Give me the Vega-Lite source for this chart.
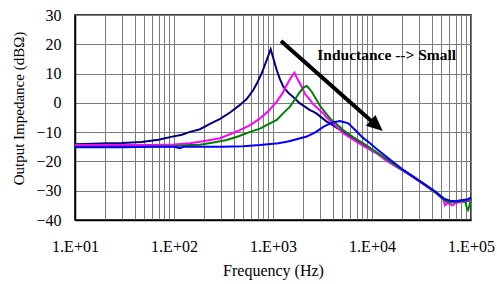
{
  "$schema": "https://vega.github.io/schema/vega-lite/v6.json",
  "width": 396,
  "height": 205,
  "autosize": {"type": "none"},
  "padding": {"left": 75, "top": 15, "right": 26, "bottom": 64},
  "config": {
    "font": "Liberation Serif",
    "view": {"stroke": "black", "strokeWidth": 1.5},
    "axis": {"labelFont": "Liberation Serif", "titleFont": "Liberation Serif", "labelColor": "black", "titleColor": "black", "titleFontWeight": "normal", "gridColor": "#7a7a7a", "gridWidth": 1, "gridOpacity": 1, "domainColor": "black", "domainWidth": 1.5, "ticks": false, "tickSize": 0, "labelOverlap": false, "labelSeparation": 0}
  },
  "datasets": {
    "curves": [
      {"s": "a", "f": 10, "db": -14.1}, {"s": "a", "f": 15, "db": -14.0}, {"s": "a", "f": 21.5, "db": -13.8}, {"s": "a", "f": 30, "db": -13.7}, {"s": "a", "f": 47, "db": -13.4}, {"s": "a", "f": 70, "db": -12.6}, {"s": "a", "f": 91, "db": -11.7}, {"s": "a", "f": 120, "db": -10.9}, {"s": "a", "f": 145, "db": -9.9}, {"s": "a", "f": 183, "db": -9.0}, {"s": "a", "f": 231, "db": -7.2}, {"s": "a", "f": 292, "db": -5.5}, {"s": "a", "f": 368, "db": -3.3}, {"s": "a", "f": 464, "db": -0.7}, {"s": "a", "f": 542, "db": 1.3}, {"s": "a", "f": 632, "db": 4.4}, {"s": "a", "f": 684, "db": 6.5}, {"s": "a", "f": 769, "db": 10.1}, {"s": "a", "f": 863, "db": 14.6}, {"s": "a", "f": 948, "db": 18.3}, {"s": "a", "f": 1000, "db": 15.6}, {"s": "a", "f": 1090, "db": 11.2}, {"s": "a", "f": 1177, "db": 8.0}, {"s": "a", "f": 1271, "db": 5.5}, {"s": "a", "f": 1429, "db": 3.4}, {"s": "a", "f": 1600, "db": 2.0}, {"s": "a", "f": 1874, "db": -0.2}, {"s": "a", "f": 2364, "db": -2.5}, {"s": "a", "f": 2553, "db": -3.0}, {"s": "a", "f": 2762, "db": -3.7}, {"s": "a", "f": 3486, "db": -6.4}, {"s": "a", "f": 3765, "db": -7.0}, {"s": "a", "f": 4500, "db": -8.7}, {"s": "a", "f": 5550, "db": -10.4}, {"s": "a", "f": 7567, "db": -13.8}, {"s": "a", "f": 8836, "db": -15.0}, {"s": "a", "f": 10000, "db": -16.3}, {"s": "a", "f": 12040, "db": -17.8}, {"s": "a", "f": 14070, "db": -19.5}, {"s": "a", "f": 17770, "db": -21.8}, {"s": "a", "f": 24000, "db": -24.5}, {"s": "a", "f": 32960, "db": -27.6}, {"s": "a", "f": 38540, "db": -29.2}, {"s": "a", "f": 45000, "db": -30.8}, {"s": "a", "f": 52500, "db": -32.6}, {"s": "a", "f": 56000, "db": -33.6}, {"s": "a", "f": 61380, "db": -34.0}, {"s": "a", "f": 70000, "db": -33.6}, {"s": "a", "f": 83600, "db": -33.3}, {"s": "a", "f": 93000, "db": -33.6}, {"s": "a", "f": 100000, "db": -32.5},

      {"s": "b", "f": 10, "db": -14.4}, {"s": "b", "f": 30, "db": -14.4}, {"s": "b", "f": 57, "db": -14.4}, {"s": "b", "f": 100, "db": -14.2}, {"s": "b", "f": 145, "db": -13.8}, {"s": "b", "f": 183, "db": -13.3}, {"s": "b", "f": 292, "db": -12.1}, {"s": "b", "f": 464, "db": -9.3}, {"s": "b", "f": 600, "db": -7.4}, {"s": "b", "f": 739, "db": -5.3}, {"s": "b", "f": 900, "db": -2.8}, {"s": "b", "f": 1090, "db": 0.4}, {"s": "b", "f": 1250, "db": 3.3}, {"s": "b", "f": 1374, "db": 6.1}, {"s": "b", "f": 1500, "db": 8.3}, {"s": "b", "f": 1641, "db": 10.3}, {"s": "b", "f": 1802, "db": 7.6}, {"s": "b", "f": 1950, "db": 5.5}, {"s": "b", "f": 2105, "db": 3.0}, {"s": "b", "f": 2364, "db": 1.0}, {"s": "b", "f": 2553, "db": -0.5}, {"s": "b", "f": 3222, "db": -3.6}, {"s": "b", "f": 3486, "db": -5.0}, {"s": "b", "f": 4398, "db": -8.2}, {"s": "b", "f": 5129, "db": -10.4}, {"s": "b", "f": 7003, "db": -13.3}, {"s": "b", "f": 8500, "db": -15.0}, {"s": "b", "f": 11150, "db": -17.2}, {"s": "b", "f": 14070, "db": -19.8}, {"s": "b", "f": 17770, "db": -21.9}, {"s": "b", "f": 24000, "db": -24.6}, {"s": "b", "f": 32960, "db": -27.8}, {"s": "b", "f": 38540, "db": -29.4}, {"s": "b", "f": 45000, "db": -31.0}, {"s": "b", "f": 52500, "db": -33.0}, {"s": "b", "f": 54550, "db": -35.0}, {"s": "b", "f": 57000, "db": -34.3}, {"s": "b", "f": 61000, "db": -34.5}, {"s": "b", "f": 65000, "db": -35.0}, {"s": "b", "f": 70000, "db": -34.2}, {"s": "b", "f": 80000, "db": -33.8}, {"s": "b", "f": 90000, "db": -33.5}, {"s": "b", "f": 100000, "db": -33.0},

      {"s": "c", "f": 10, "db": -15.0}, {"s": "c", "f": 57, "db": -15.0}, {"s": "c", "f": 100, "db": -14.8}, {"s": "c", "f": 145, "db": -14.4}, {"s": "c", "f": 183, "db": -14.3}, {"s": "c", "f": 250, "db": -13.5}, {"s": "c", "f": 340, "db": -12.7}, {"s": "c", "f": 450, "db": -11.4}, {"s": "c", "f": 586, "db": -9.9}, {"s": "c", "f": 739, "db": -8.8}, {"s": "c", "f": 863, "db": -7.6}, {"s": "c", "f": 1090, "db": -5.8}, {"s": "c", "f": 1271, "db": -3.5}, {"s": "c", "f": 1485, "db": -1.3}, {"s": "c", "f": 1735, "db": 2.1}, {"s": "c", "f": 1874, "db": 3.8}, {"s": "c", "f": 2050, "db": 5.3}, {"s": "c", "f": 2188, "db": 5.8}, {"s": "c", "f": 2300, "db": 5.0}, {"s": "c", "f": 2460, "db": 3.8}, {"s": "c", "f": 2700, "db": 1.5}, {"s": "c", "f": 2983, "db": -1.0}, {"s": "c", "f": 3765, "db": -5.3}, {"s": "c", "f": 5129, "db": -9.3}, {"s": "c", "f": 6500, "db": -11.8}, {"s": "c", "f": 8171, "db": -13.8}, {"s": "c", "f": 10000, "db": -15.8}, {"s": "c", "f": 13000, "db": -18.4}, {"s": "c", "f": 17770, "db": -21.6}, {"s": "c", "f": 24000, "db": -24.4}, {"s": "c", "f": 32960, "db": -27.6}, {"s": "c", "f": 38540, "db": -29.2}, {"s": "c", "f": 45000, "db": -30.9}, {"s": "c", "f": 52500, "db": -33.0}, {"s": "c", "f": 61380, "db": -34.0}, {"s": "c", "f": 70000, "db": -33.8}, {"s": "c", "f": 80000, "db": -33.5}, {"s": "c", "f": 88000, "db": -34.0}, {"s": "c", "f": 91000, "db": -36.0}, {"s": "c", "f": 93300, "db": -36.6}, {"s": "c", "f": 96000, "db": -35.5}, {"s": "c", "f": 100000, "db": -32.5},

      {"s": "d", "f": 10, "db": -15.2}, {"s": "d", "f": 30, "db": -15.2}, {"s": "d", "f": 60, "db": -15.0}, {"s": "d", "f": 100, "db": -15.0}, {"s": "d", "f": 115, "db": -15.5}, {"s": "d", "f": 125, "db": -15.0}, {"s": "d", "f": 200, "db": -15.0}, {"s": "d", "f": 300, "db": -15.0}, {"s": "d", "f": 500, "db": -14.8}, {"s": "d", "f": 739, "db": -14.4}, {"s": "d", "f": 1132, "db": -13.8}, {"s": "d", "f": 1374, "db": -13.3}, {"s": "d", "f": 1485, "db": -13.0}, {"s": "d", "f": 2188, "db": -11.5}, {"s": "d", "f": 2700, "db": -10.0}, {"s": "d", "f": 3222, "db": -8.2}, {"s": "d", "f": 3486, "db": -7.6}, {"s": "d", "f": 4100, "db": -6.6}, {"s": "d", "f": 4752, "db": -6.2}, {"s": "d", "f": 5765, "db": -7.0}, {"s": "d", "f": 7003, "db": -9.8}, {"s": "d", "f": 8000, "db": -11.8}, {"s": "d", "f": 9545, "db": -13.8}, {"s": "d", "f": 11000, "db": -15.6}, {"s": "d", "f": 14620, "db": -18.9}, {"s": "d", "f": 20720, "db": -22.9}, {"s": "d", "f": 32960, "db": -27.5}, {"s": "d", "f": 45000, "db": -30.6}, {"s": "d", "f": 52500, "db": -32.6}, {"s": "d", "f": 61380, "db": -33.4}, {"s": "d", "f": 70000, "db": -33.6}, {"s": "d", "f": 83600, "db": -33.2}, {"s": "d", "f": 92000, "db": -33.0}, {"s": "d", "f": 100000, "db": -32.3}
    ],
    "arrow": [{"f": 1205, "db": 21.1, "f2": 11150, "db2": -7.8}],
    "note": [{"f": 2800, "db": 16.3, "label": "Inductance --> Small"}]
  },
  "layer": [
    {
      "data": {"name": "curves"},
      "mark": {"type": "line", "strokeWidth": 2, "interpolate": "linear"},
      "encoding": {
        "x": {
          "field": "f", "type": "quantitative",
          "scale": {"type": "log", "domain": [10, 100000], "nice": false},
          "axis": {
            "title": "Frequency (Hz)",
            "values": [10, 20, 30, 40, 50, 60, 70, 80, 90, 100, 200, 300, 400, 500, 600, 700, 800, 900, 1000, 2000, 3000, 4000, 5000, 6000, 7000, 8000, 9000, 10000, 20000, 30000, 40000, 50000, 60000, 70000, 80000, 90000, 100000],
            "labelExpr": "indexof([10, 100, 1000, 10000, 100000], datum.value) >= 0 ? '1.E+0' + round(log(datum.value) / LN10) : ''",
            "labelFont": "Liberation Serif", "titleFont": "Liberation Serif",
            "labelFontSize": 16, "labelPadding": 26, "labelBaseline": "middle", "labelFlush": false, "labelOverlap": false,
            "titleFontSize": 16, "titleY": 50, "titleX": 198, "titleBaseline": "middle", "titleAnchor": "middle",
            "grid": true
          }
        },
        "y": {
          "field": "db", "type": "quantitative",
          "scale": {"domain": [-40, 30], "nice": false, "zero": false},
          "axis": {
            "title": "Output Impedance (dBΩ)",
            "values": [-40, -30, -20, -10, 0, 10, 20, 30],
            "tickCount": 8,
            "labelFont": "Liberation Serif", "titleFont": "Liberation Serif",
            "labelFontSize": 16, "labelPadding": 14, "labelBaseline": "middle",
            "labelFlush": false, "labelOverlap": false,
            "titleFontSize": 15, "titleX": -57, "titleY": 93, "titleAngle": -90, "titleAlign": "center", "titleBaseline": "middle",
            "grid": true
          }
        },
        "color": {
          "field": "s", "type": "nominal",
          "scale": {"domain": ["a", "b", "c", "d"], "range": ["#000080", "#ff00ff", "#008000", "#0000ff"]},
          "legend": null
        }
      }
    },
    {
      "data": {"name": "arrow"},
      "mark": {"type": "rule", "strokeWidth": 4, "color": "black"},
      "encoding": {
        "x": {"field": "f", "type": "quantitative"},
        "y": {"field": "db", "type": "quantitative"},
        "x2": {"field": "f2"},
        "y2": {"field": "db2"}
      }
    },
    {
      "data": {"name": "arrow"},
      "mark": {"type": "point", "shape": "M1,0L-1,-0.9L-1,0.9Z", "size": 260, "angle": 41.5, "filled": true, "color": "black", "opacity": 1},
      "encoding": {
        "x": {"field": "f2", "type": "quantitative"},
        "y": {"field": "db2", "type": "quantitative"}
      }
    },
    {
      "data": {"name": "note"},
      "mark": {"type": "text", "font": "Liberation Serif", "fontWeight": "bold", "fontSize": 15.5, "align": "left", "baseline": "middle", "color": "black"},
      "encoding": {
        "x": {"field": "f", "type": "quantitative"},
        "y": {"field": "db", "type": "quantitative"},
        "text": {"field": "label"}
      }
    }
  ]
}
